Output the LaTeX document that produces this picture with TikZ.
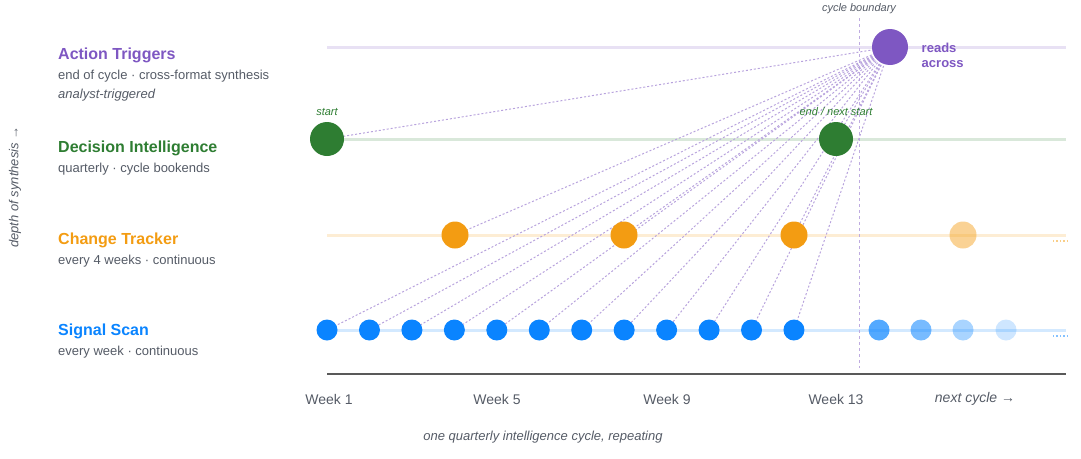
\documentclass[tikz,border=0pt]{standalone}
\usepackage{fontspec}
\setmainfont{Liberation Sans}
\usetikzlibrary{positioning}
\definecolor{trig}{HTML}{7E57C2}
\definecolor{dec}{HTML}{2E7D32}
\definecolor{chg}{HTML}{F39C12}
\definecolor{sig}{HTML}{0A84FF}
\definecolor{txt}{HTML}{555B66}
\begin{document}
\begin{tikzpicture}[x=1pt,y=-1pt,
	title/.style={anchor=base west, font=\fontsize{16}{18}\selectfont\bfseries, inner sep=0pt},
	sub/.style={anchor=base west, font=\fontsize{13}{15}\selectfont, text=txt, inner sep=0pt},
	dot/.style={circle, inner sep=0pt, minimum size=#1},
	lane/.style={line width=3pt, opacity=0.18},
	reach/.style={trig!55, dash pattern=on 2pt off 2pt, line width=1pt},
	week/.style={font=\fontsize{14}{16}\selectfont, text=txt}]
	\useasboundingbox (0,0) rectangle (1081,458);
	% lanes
	\draw [lane, trig] (327,47) -- (1066,47);
	\draw [lane, dec] (327,139) -- (1066,139);
	\draw [lane, chg] (327,235) -- (1066,235);
	\draw [lane, sig] (327,330) -- (1066,330);
	\draw [chg!50, dotted, line width=1.4pt] (1053,241) -- (1068,241);
	\draw [sig!50, dotted, line width=1.4pt] (1053,336) -- (1068,336);
	\draw [gray!70!black, line width=1.4pt] (327,374) -- (1066,374);
	\draw [trig!50, dashed, line width=0.9pt] (859,18) -- (859,368);
	\node [font=\fontsize{11}{13}\selectfont\itshape, text=txt] (cb) at (859,9) {cycle boundary};
	% left labels
	\node [title, text=trig] (t1) at (58,59) {Action Triggers};
	\node [sub] (s1a) at (58,79) {end of cycle · cross-format synthesis};
	\node [sub, font=\fontsize{13}{15}\selectfont\itshape] (s1b) at (58,98) {analyst-triggered};
	\node [title, text=dec] (t2) at (58,152) {Decision Intelligence};
	\node [sub] (s2) at (58,172) {quarterly · cycle bookends};
	\node [title, text=chg] (t3) at (58,244) {Change Tracker};
	\node [sub] (s3) at (58,264) {every 4 weeks · continuous};
	\node [title, text=sig] (t4) at (58,335) {Signal Scan};
	\node [sub] (s4) at (58,355) {every week · continuous};
	\node [rotate=90, font=\fontsize{13}{15}\selectfont\itshape, text=txt] (ax) at (15,187) {depth of synthesis →};
	% reach lines (behind the dots)
	\coordinate (at) at (890,47);
	\coordinate (d1) at (327,139);
	\coordinate (d2) at (836,139);
	\foreach \x in {455,624,794}
		\draw [reach] (at) -- (\x,235);
	\foreach \i in {1,...,12}
		\draw [reach] (at) -- ({327+42.45*(\i-1)},330);
	\draw [reach] (at) -- (d1);
	\draw [reach] (at) -- (d2);
	% nodes
	\node [dot=36pt, fill=trig] (AT) at (at) {};
	\node [right=10pt of AT, yshift=-8pt, align=left, text=trig, font=\fontsize{13}{15}\selectfont\bfseries] (ra) {reads\\across};
	\node [dot=34pt, fill=dec] (D1) at (d1) {};
	\node [dot=34pt, fill=dec] (D2) at (d2) {};
	\node [above=3pt of D1, text=dec, font=\fontsize{11}{13}\selectfont\itshape] (ds) {start};
	\node [above=3pt of D2, text=dec, font=\fontsize{11}{13}\selectfont\itshape] (de) {end / next start};
	\foreach \i/\x in {1/455,2/624,3/794}
		\node [dot=27pt, fill=chg] (C\i) at (\x,235) {};
	\node [dot=27pt, fill=chg, opacity=0.45] (C4) at (963,235) {};
	\foreach \i in {1,...,12}
		\node [dot=21pt, fill=sig] (S\i) at ({327+42.45*(\i-1)},330) {};
	\foreach \x/\o in {879/0.7,921/0.55,963/0.35,1006/0.2}
		\node [dot=21pt, fill=sig, opacity=\o] (N\x) at (\x,330) {};
	% axis labels
	\node [week] (w1) at (329,399) {Week 1};
	\node [week] (w5) at (497,399) {Week 5};
	\node [week] (w9) at (667,399) {Week 9};
	\node [week] (w13) at (836,399) {Week 13};
	\node [week, font=\fontsize{14}{16}\selectfont\itshape] (nc) at (975,399) {next cycle →};
	\node [week, font=\fontsize{13}{15}\selectfont\itshape] (cap) at (543,437) {one quarterly intelligence cycle, repeating};
\end{tikzpicture}
\end{document}
